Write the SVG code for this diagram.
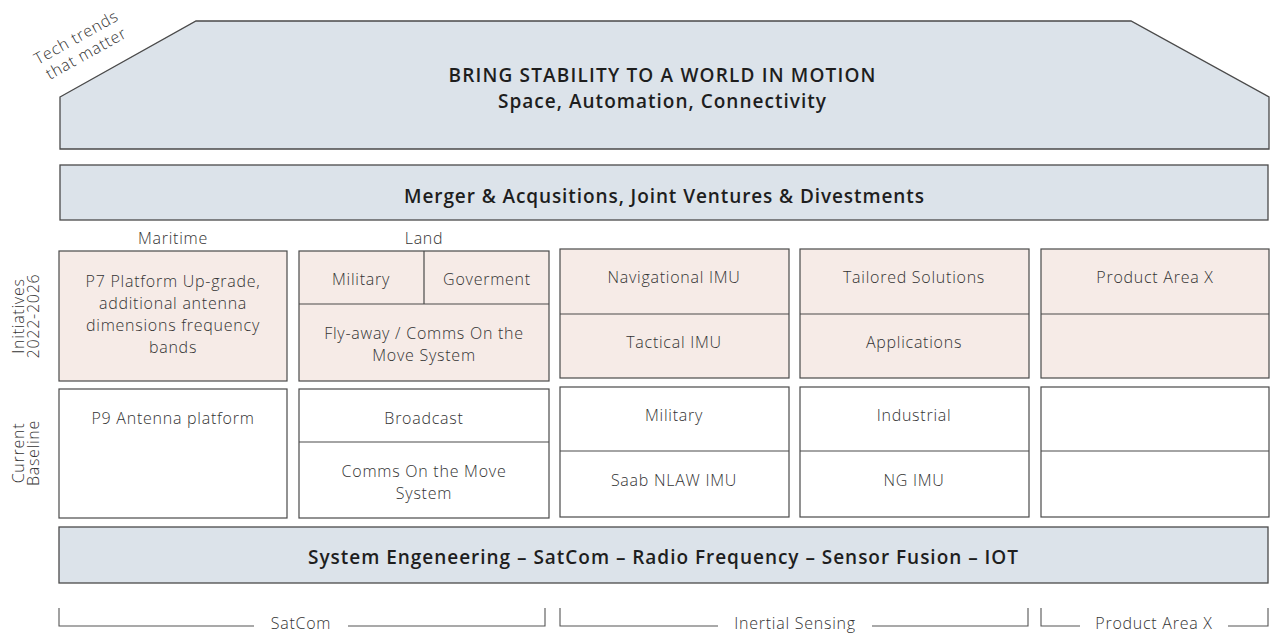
<svg xmlns="http://www.w3.org/2000/svg" width="1274" height="633" viewBox="0 0 1274 633">
<style>
.band{fill:#dce3ea;stroke:#4a4a4a;stroke-width:1.3}
.init{fill:#f6ebe7;stroke:#4a4a4a;stroke-width:1.2}
.base{fill:#ffffff;stroke:#4a4a4a;stroke-width:1.2}
.div{stroke:#4a4a4a;stroke-width:1.2;fill:none}
.t{font-family:"Open Sans","Liberation Sans",sans-serif;font-weight:300;font-size:16px;letter-spacing:0.75px;fill:#333;text-anchor:middle;dominant-baseline:central}
.h{font-family:"Open Sans","Liberation Sans",sans-serif;font-weight:600;font-size:19px;fill:#1e1e1e;text-anchor:middle;dominant-baseline:central}
.br{stroke:#555;stroke-width:1.1;fill:none}
</style>
<rect width="1274" height="633" fill="#ffffff"/>
<g id="top">
<polygon class="band" points="60,97 196,21 1131,21 1269,97 1269,149 60,149"/>
<text class="h" x="662" y="75" textLength="427" lengthAdjust="spacing">BRING STABILITY TO A WORLD IN MOTION</text>
<text class="h" x="662" y="101" textLength="328" lengthAdjust="spacing">Space, Automation, Connectivity</text>
</g>
<g id="tech-trends">
<text class="t" transform="translate(76,37) rotate(-29)">Tech trends</text>
<text class="t" transform="translate(86,53) rotate(-29)">that matter</text>
</g>
<g id="merger">
<rect class="band" x="60" y="165" width="1208" height="55"/>
<text class="h" x="664" y="196" textLength="520" lengthAdjust="spacing">Merger &amp; Acqusitions, Joint Ventures &amp; Divestments</text>
</g>
<g id="row-labels">
<text class="t" transform="translate(18,316) rotate(-90)">Initiatives</text>
<text class="t" transform="translate(33,316) rotate(-90)">2022-2026</text>
<text class="t" transform="translate(18,453) rotate(-90)">Current</text>
<text class="t" transform="translate(33,453) rotate(-90)">Baseline</text>
</g>
<g id="column-labels">
<text class="t" x="173" y="238">Maritime</text>
<text class="t" x="424" y="238">Land</text>
</g>
<g id="maritime-init">
<rect class="init" x="59" y="251" width="228" height="130"/>
<text class="t" x="173" y="281">P7 Platform Up-grade,</text>
<text class="t" x="173" y="303">additional antenna</text>
<text class="t" x="173" y="325">dimensions frequency</text>
<text class="t" x="173" y="347">bands</text>
</g>
<g id="land-init">
<rect class="init" x="299" y="251" width="250" height="130"/>
<line class="div" x1="299" y1="304" x2="549" y2="304"/>
<line class="div" x1="424" y1="251" x2="424" y2="304"/>
<text class="t" x="361" y="279">Military</text>
<text class="t" x="487" y="279">Goverment</text>
<text class="t" x="424" y="333">Fly-away / Comms On the</text>
<text class="t" x="424" y="355">Move System</text>
</g>
<g id="imu-init">
<rect class="init" x="560" y="249" width="229" height="129"/>
<line class="div" x1="560" y1="314" x2="789" y2="314"/>
<text class="t" x="674" y="277">Navigational IMU</text>
<text class="t" x="674" y="342">Tactical IMU</text>
</g>
<g id="solutions-init">
<rect class="init" x="800" y="249" width="229" height="129"/>
<line class="div" x1="800" y1="314" x2="1029" y2="314"/>
<text class="t" x="914" y="277">Tailored Solutions</text>
<text class="t" x="914" y="342">Applications</text>
</g>
<g id="productx-init">
<rect class="init" x="1041" y="249" width="228" height="129"/>
<line class="div" x1="1041" y1="314" x2="1269" y2="314"/>
<text class="t" x="1155" y="277">Product Area X</text>
</g>
<g id="maritime-base">
<rect class="base" x="59" y="389" width="228" height="129"/>
<text class="t" x="173" y="418">P9 Antenna platform</text>
</g>
<g id="land-base">
<rect class="base" x="299" y="389" width="250" height="129"/>
<line class="div" x1="299" y1="442" x2="549" y2="442"/>
<text class="t" x="424" y="418">Broadcast</text>
<text class="t" x="424" y="471">Comms On the Move</text>
<text class="t" x="424" y="493">System</text>
</g>
<g id="imu-base">
<rect class="base" x="560" y="387" width="229" height="130"/>
<line class="div" x1="560" y1="451" x2="789" y2="451"/>
<text class="t" x="674" y="415">Military</text>
<text class="t" x="674" y="480">Saab NLAW IMU</text>
</g>
<g id="industrial-base">
<rect class="base" x="800" y="387" width="229" height="130"/>
<line class="div" x1="800" y1="451" x2="1029" y2="451"/>
<text class="t" x="914" y="415">Industrial</text>
<text class="t" x="914" y="480">NG IMU</text>
</g>
<g id="productx-base">
<rect class="base" x="1041" y="387" width="228" height="130"/>
<line class="div" x1="1041" y1="451" x2="1269" y2="451"/>
</g>
<g id="system">
<rect class="band" x="59" y="527" width="1209" height="56"/>
<text class="h" x="663" y="557" textLength="710" lengthAdjust="spacing">System Engeneering – SatCom – Radio Frequency – Sensor Fusion – IOT</text>
</g>
<g id="brackets">
<polyline class="br" points="59,608 59,626 254,626"/>
<polyline class="br" points="348,626 545,626 545,608"/>
<text class="t" x="301" y="623">SatCom</text>
<polyline class="br" points="560,608 560,626 718,626"/>
<polyline class="br" points="872,626 1028,626 1028,608"/>
<text class="t" x="795" y="623">Inertial Sensing</text>
<polyline class="br" points="1041,608 1041,626 1080,626"/>
<polyline class="br" points="1228,626 1268,626 1268,608"/>
<text class="t" x="1154" y="623">Product Area X</text>
</g>
</svg>
